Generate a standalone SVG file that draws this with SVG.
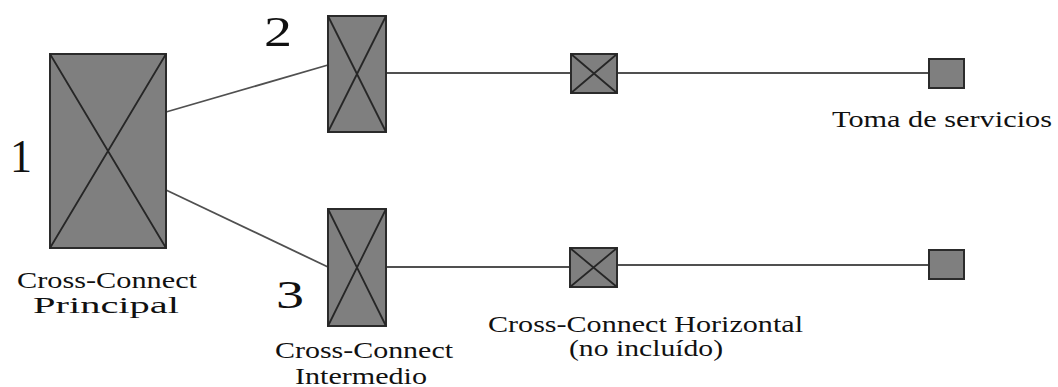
<svg xmlns="http://www.w3.org/2000/svg" width="1058" height="387" viewBox="0 0 1058 387">
<style>
.box{fill:#7f7f7f;stroke:#2b2b2b;stroke-width:2}
.x{stroke:#262626;stroke-width:1.8;fill:none}
.c{stroke:#505050;stroke-width:1.8;fill:none}
text{fill:#111;font-family:"Times New Roman","Liberation Serif",Tinos,"Nimbus Roman","Noto Serif",serif}
</style>
<rect width="1058" height="387" fill="#fff"/>
<g id="connectors">
<line class="c" x1="166" y1="112" x2="328" y2="65"/>
<line class="c" x1="166" y1="190" x2="328" y2="267"/>
<line class="c" x1="386" y1="73" x2="571" y2="73"/>
<line class="c" x1="617" y1="73" x2="929" y2="73"/>
<line class="c" x1="386" y1="267" x2="570" y2="267"/>
<line class="c" x1="617" y1="265" x2="929" y2="265"/>
</g>
<g font-size="24">
<g id="node1">
<rect class="box" x="50" y="54" width="116" height="194"/>
<path class="x" d="M50 54L166 248M166 54L50 248"/>
<text x="10" y="172" font-size="46" textLength="22" lengthAdjust="spacingAndGlyphs">1</text>
<text x="17" y="288" textLength="180" lengthAdjust="spacingAndGlyphs">Cross-Connect</text>
<text x="33" y="313" textLength="146" lengthAdjust="spacingAndGlyphs">Principal</text>
</g>
<g id="node2">
<rect class="box" x="328" y="16" width="58" height="116"/>
<path class="x" d="M328 16L386 132M386 16L328 132"/>
<text x="264" y="46" font-size="42" textLength="28" lengthAdjust="spacingAndGlyphs">2</text>
</g>
<g id="node3">
<rect class="box" x="328" y="209" width="58" height="117"/>
<path class="x" d="M328 209L386 326M386 209L328 326"/>
<text x="276" y="308" font-size="40" textLength="28" lengthAdjust="spacingAndGlyphs">3</text>
<text x="275" y="358" textLength="178" lengthAdjust="spacingAndGlyphs">Cross-Connect</text>
<text x="295" y="384" textLength="132" lengthAdjust="spacingAndGlyphs">Intermedio</text>
</g>
<g id="node4">
<rect class="box" x="571" y="54" width="46" height="39"/>
<path class="x" d="M571 54L617 93M617 54L571 93"/>
</g>
<g id="node5">
<rect class="box" x="570" y="248" width="47" height="39"/>
<path class="x" d="M570 248L617 287M617 248L570 287"/>
<text x="488" y="332" textLength="315" lengthAdjust="spacingAndGlyphs">Cross-Connect Horizontal</text>
<text x="569" y="356" textLength="154" lengthAdjust="spacingAndGlyphs">(no incluído)</text>
</g>
<g id="node6">
<rect class="box" x="929" y="59" width="35" height="29"/>
<text x="832" y="127" textLength="220" lengthAdjust="spacingAndGlyphs">Toma de servicios</text>
</g>
<g id="node7">
<rect class="box" x="929" y="250" width="35" height="29"/>
</g>
</g>
</svg>
